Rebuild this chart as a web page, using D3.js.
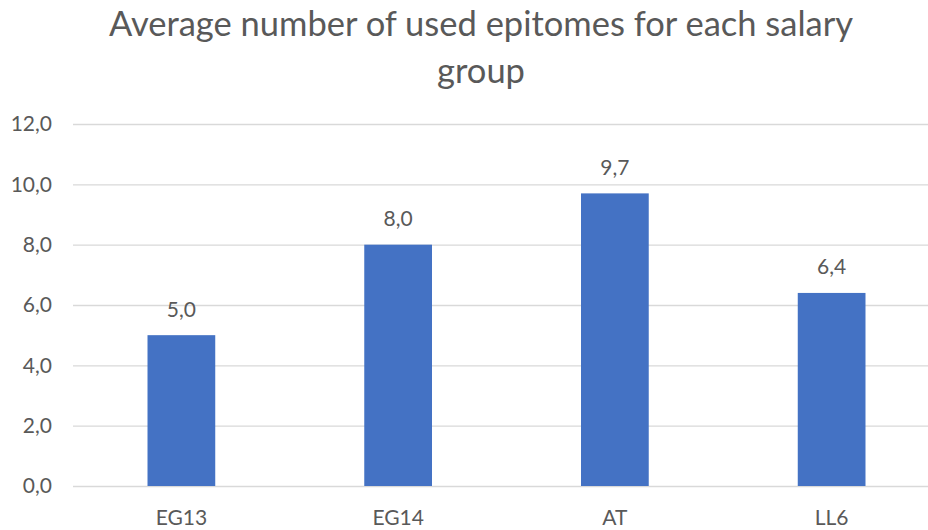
<!DOCTYPE html>
<html>
<head>
<meta charset="utf-8">
<script src="https://cdn.jsdelivr.net/npm/d3@7"></script>
<style>
  html, body { margin: 0; padding: 0; background: #fff; }
  svg { display: block; }
  text { font-family: Lato, "Noto Sans", sans-serif; fill: #595959; }
</style>
</head>
<body>
<svg id="chart" width="928" height="530"></svg>
<script>
// Salary groups and the average number of epitomes used in each
const groups = ["EG13", "EG14", "AT", "LL6"];
const avgEpitomes = [5.0, 8.0, 9.7, 6.4];
const yTicks = [0, 2, 4, 6, 8, 10, 12];
const titleLines = ["Average number of used epitomes for each salary", "group"];

const width = 928, height = 530;
const margin = { top: 124, right: -12, bottom: 44, left: 73 };

const svg = d3.select("#chart");

const fmt = v => d3.format(".1f")(v).replace(".", ",");

const x = d3.scaleBand()
  .domain(groups)
  .range([margin.left, width - margin.right])
  .paddingInner(0.6875)
  .paddingOuter(0.34375);

const y = d3.scaleLinear()
  .domain([0, 12])
  .range([height - margin.bottom, margin.top]);

// Horizontal gridlines with value labels
const yAxis = d3.axisLeft(y)
  .tickValues(yTicks)
  .tickFormat(fmt)
  .tickSize(-(width - margin.right - margin.left))
  .tickPadding(21);

const gy = svg.append("g")
  .attr("transform", `translate(${margin.left},0)`)
  .call(yAxis);
gy.select(".domain").remove();
gy.selectAll(".tick line").attr("stroke", "#d9d9d9").attr("stroke-width", 1.3);
gy.selectAll(".tick text")
  .attr("font-size", 21)
  .attr("fill", "#595959")
  .style("font-family", "Lato, 'Noto Sans', sans-serif");

// Bars
svg.append("g")
  .selectAll("rect")
  .data(groups)
  .join("rect")
  .attr("x", d => x(d))
  .attr("width", x.bandwidth())
  .attr("y", (d, i) => y(avgEpitomes[i]))
  .attr("height", (d, i) => y(0) - y(avgEpitomes[i]))
  .attr("fill", "#4472c4");

// Value labels above the bars
svg.append("g")
  .selectAll("text")
  .data(groups)
  .join("text")
  .attr("x", d => x(d) + x.bandwidth() / 2)
  .attr("y", (d, i) => y(avgEpitomes[i]) - 18.5)
  .attr("text-anchor", "middle")
  .attr("font-size", 21)
  .text((d, i) => fmt(avgEpitomes[i]));

// Category axis
const xAxis = d3.axisBottom(x).tickSize(0).tickPadding(24);
const gx = svg.append("g")
  .attr("transform", `translate(0,${height - margin.bottom})`)
  .call(xAxis);
gx.select(".domain").remove();
gx.selectAll(".tick text")
  .attr("font-size", 21)
  .attr("fill", "#595959")
  .style("font-family", "Lato, 'Noto Sans', sans-serif");

// Title
svg.append("g")
  .selectAll("text")
  .data(titleLines)
  .join("text")
  .attr("x", 481)
  .attr("y", (d, i) => 36 + i * 47)
  .attr("text-anchor", "middle")
  .attr("font-size", 34.5)
  .text(d => d);
</script>
</body>
</html>
